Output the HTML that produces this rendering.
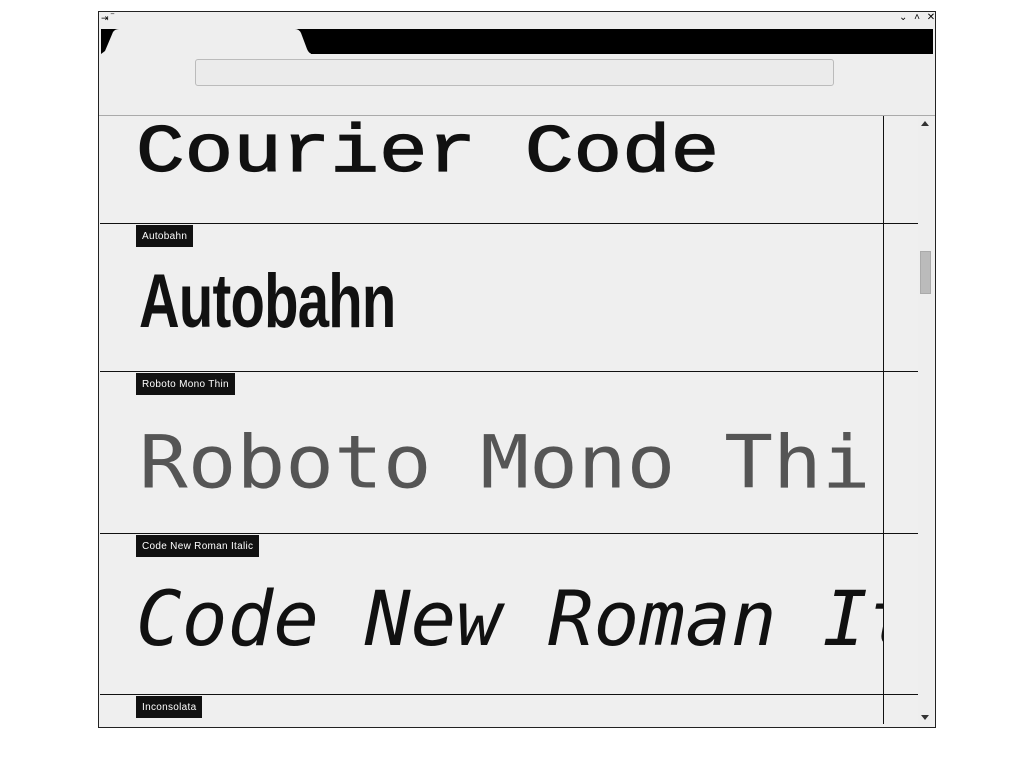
<!DOCTYPE html>
<html><head><style>
*{margin:0;padding:0;box-sizing:border-box}
body{width:1024px;height:768px;background:#fff;position:relative;overflow:hidden;font-family:"Liberation Sans",sans-serif}
.a{position:absolute}
.win{left:98px;top:11px;width:838px;height:717px;border:1px solid #222;background:#eee}
.line{position:absolute;left:100px;width:818px;height:1px;background:#111}
.lab{position:absolute;left:136px;height:22px;background:#111;color:#fff;font-size:10px;line-height:24px;padding:0 6px;letter-spacing:.3px}
.big{position:absolute;white-space:nowrap;color:#111;line-height:1}
</style></head><body>
<div class="a win"></div>
<div class="a" style="left:101px;top:13px;font-size:9px;color:#000">⇥ ‾</div>
<div class="a" style="left:899px;top:12px;font-size:10px;color:#000;letter-spacing:2px">⌄ ˄ ✕</div>
<div class="a" style="left:101px;top:29px;width:832px;height:25px;background:#000"></div>
<svg class="a" style="left:101px;top:29px" width="210" height="26"><path d="M0 25 L4 22 L12 3 Q14 0 18 0 L194 0 Q198 0 200 4 L206 20 Q208 25 212 25 Z" fill="#eee"/></svg>
<div class="a" style="left:195px;top:59px;width:639px;height:27px;border:1px solid #bbb;border-radius:3px;background:#ebebeb"></div>
<div class="a" style="left:99px;top:115px;width:836px;height:1px;background:#aaa"></div>
<div class="a" style="left:99px;top:116px;width:836px;height:610px;background:#efefef;overflow:hidden">
</div>
<div class="a" style="left:99px;top:116px;width:785px;height:608px;overflow:hidden">
 <div class="big" style="left:37px;top:-7px;font-family:'Liberation Mono',monospace;font-weight:normal;-webkit-text-stroke:1.5px #111;font-size:81px;transform:scaleY(0.84);transform-origin:0 67px">Courier Code</div>
 <div class="big" style="left:40px;top:148px;font-family:'Liberation Sans',sans-serif;font-weight:bold;font-size:76px;transform:scaleX(0.74);transform-origin:left;letter-spacing:-1px">Autobahn</div>
 <div class="big" style="left:40px;top:303px;font-family:'DejaVu Sans Mono',monospace;font-weight:normal;font-size:81px;color:#555;transform:scaleY(0.9);transform-origin:0 80px">Roboto Mono Thi</div>
 <div class="big" style="left:37px;top:465px;font-family:'DejaVu Sans Mono',monospace;font-style:italic;font-size:76px">Code New Roman Italic</div>
</div>
<div class="line" style="top:223px"></div>
<div class="line" style="top:371px"></div>
<div class="line" style="top:533px"></div>
<div class="line" style="top:694px"></div>
<div class="a" style="left:883px;top:116px;width:1px;height:608px;background:#111"></div>
<div class="a" style="left:918px;top:116px;width:16px;height:610px;background:#eee"></div>
<div class="a" style="left:921px;top:121px;width:0;height:0;border-left:4px solid transparent;border-right:4px solid transparent;border-bottom:5px solid #333"></div>
<div class="a" style="left:921px;top:715px;width:0;height:0;border-left:4px solid transparent;border-right:4px solid transparent;border-top:5px solid #333"></div>
<div class="a" style="left:920px;top:251px;width:11px;height:43px;background:#bbb;border:1px solid #aaa"></div>
<div class="lab" style="top:225px">Autobahn</div>
<div class="lab" style="top:373px">Roboto Mono Thin</div>
<div class="lab" style="top:535px">Code New Roman Italic</div>
<div class="lab" style="top:696px">Inconsolata</div>
</body></html>
